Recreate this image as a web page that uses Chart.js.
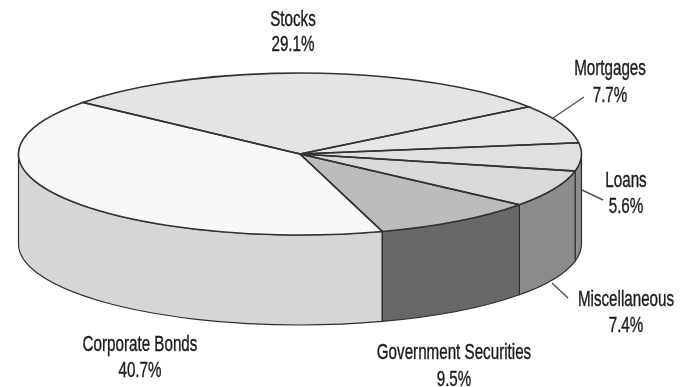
<!DOCTYPE html>
<html>
<head>
<meta charset="utf-8">
<title>Asset allocation</title>
<script src="https://cdn.jsdelivr.net/npm/chart.js@4/dist/chart.umd.min.js"></script>
<style>
  html, body { margin: 0; background: #fff; }
  canvas { display: block; }
</style>
</head>
<body>
<canvas id="pie" width="686" height="387" role="img" aria-label="Pie chart of asset shares"></canvas>
<script>
const categories = ['Corporate Bonds', 'Stocks', 'Mortgages', 'Loans', 'Miscellaneous', 'Government Securities'];
const shares = [40.7, 29.1, 7.7, 5.6, 7.4, 9.5];

const topColors = ['#f8f8f8', '#e4e4e4', '#e6e6e6', '#e0e0e0', '#d9d9d9', '#bcbcbc'];
const wallColors = ['#d6d6d6', '#d6d6d6', '#d6d6d6', '#8e8e8e', '#8c8c8c', '#686868'];

// centre of each two-line label, with the baselines of both lines
const labelSpots = [
  { x: 140, y1: 351, y2: 377 },
  { x: 293, y1: 26, y2: 51 },
  { x: 610, y1: 75, y2: 102 },
  { x: 626, y1: 187, y2: 213 },
  { x: 626, y1: 306, y2: 332 },
  { x: 454, y1: 359, y2: 386 },
];

// leader lines as [x1, y1, x2, y2]
const leaders = [
  [553, 118, 584, 97],
  [582, 190, 603, 200],
  [552, 283, 568, 298],
];

// drum geometry on the page
const drum = { cx: 300, cy: 154, rx: 281.5, ry: 81, depth: 90 };
const TAU = Math.PI * 2;

function flatten(ctx, arc) {
  const k = arc.outerRadius;
  ctx.translate(drum.cx, drum.cy);
  ctx.scale(drum.rx / k, drum.ry / k);
  ctx.translate(-arc.x, -arc.y);
}

const drumPlugin = {
  id: 'drum',
  beforeDatasetsDraw(chart) {
    const ctx = chart.ctx;
    const arcs = chart.getDatasetMeta(0).data;
    // side wall, only the part of each slice facing the viewer
    arcs.forEach((arc, i) => {
      [0, TAU, -TAU].forEach(shift => {
        const a = Math.max(arc.startAngle + shift, 0);
        const b = Math.min(arc.endAngle + shift, Math.PI);
        if (b <= a) return;
        ctx.beginPath();
        ctx.ellipse(drum.cx, drum.cy, drum.rx, drum.ry, 0, a, b);
        ctx.ellipse(drum.cx, drum.cy + drum.depth, drum.rx, drum.ry, 0, b, a, true);
        ctx.closePath();
        ctx.fillStyle = wallColors[i];
        ctx.fill();
        ctx.strokeStyle = '#2e2e2e';
        ctx.lineWidth = 1.2;
        ctx.stroke();
      });
    });
    // the library's arcs are squashed into the top face
    ctx.save();
    flatten(ctx, arcs[0]);
  },
  afterDatasetsDraw(chart) {
    const ctx = chart.ctx;
    ctx.restore();
    const arcs = chart.getDatasetMeta(0).data;

    ctx.strokeStyle = '#333';
    ctx.lineWidth = 1.6;
    arcs.forEach(arc => {
      ctx.beginPath();
      ctx.moveTo(drum.cx, drum.cy);
      ctx.ellipse(drum.cx, drum.cy, drum.rx, drum.ry, 0, arc.startAngle, arc.endAngle);
      ctx.closePath();
      ctx.stroke();
    });

    ctx.strokeStyle = '#555';
    ctx.lineWidth = 1.5;
    leaders.forEach(l => {
      ctx.beginPath();
      ctx.moveTo(l[0], l[1]);
      ctx.lineTo(l[2], l[3]);
      ctx.stroke();
    });

    // tall narrow lettering
    ctx.fillStyle = '#1c1c1c';
    ctx.strokeStyle = '#1c1c1c';
    ctx.lineWidth = 0.4;
    ctx.font = '22px "Liberation Sans"';
    ctx.textAlign = 'center';
    ctx.textBaseline = 'alphabetic';
    const putText = (text, x, y) => {
      ctx.save();
      ctx.translate(x, y);
      ctx.scale(0.69, 1);
      ctx.fillText(text, 0, 0);
      ctx.strokeText(text, 0, 0);
      ctx.restore();
    };
    categories.forEach((name, i) => {
      const spot = labelSpots[i];
      putText(name, spot.x, spot.y1);
      putText(shares[i] + '%', spot.x, spot.y2);
    });
  },
};

new Chart(document.getElementById('pie'), {
  type: 'pie',
  data: {
    labels: categories,
    datasets: [{ data: shares, backgroundColor: topColors, borderWidth: 0 }],
  },
  options: {
    responsive: false,
    animation: false,
    rotation: 163,
    plugins: { legend: { display: false }, tooltip: { enabled: false } },
  },
  plugins: [drumPlugin],
});
</script>
</body>
</html>
